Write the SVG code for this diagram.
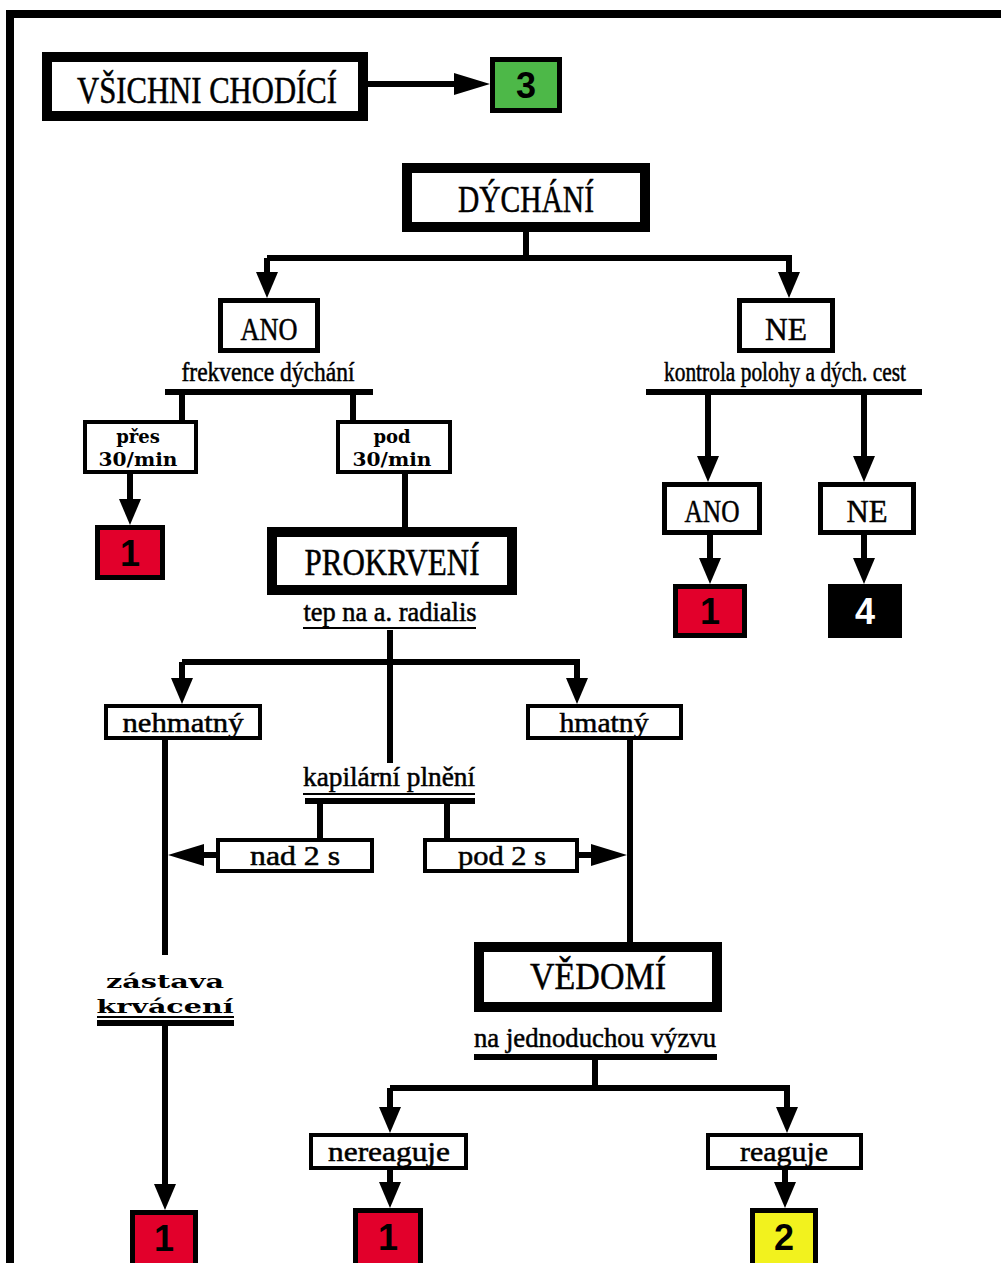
<svg xmlns="http://www.w3.org/2000/svg" width="1001" height="1263" viewBox="0 0 1001 1263">
<style>
.box{fill:#fff;stroke:#000}
.b10{stroke-width:10}
.b5{stroke-width:5}
.b4{stroke-width:4}
.t{font-family:"Liberation Serif","Times New Roman",serif;fill:#000;stroke:#000;stroke-width:0.5;text-anchor:middle}
.big{font-size:38px}
.mid{font-size:32px}
.sm{font-size:27px}
.wide{font-family:"DejaVu Serif",serif;font-weight:bold;font-size:18px;fill:#000;text-anchor:middle}
.num{font-family:"Liberation Sans",Arial,sans-serif;font-weight:bold;font-size:36px;text-anchor:middle}
.red{fill:#E2002B;stroke:#000;stroke-width:5}
.ln{fill:none;stroke:#000;stroke-width:6}
.ul{stroke:#000;stroke-width:2}
</style>
<defs>
<marker id="ah" markerUnits="userSpaceOnUse" viewBox="0 0 26 22" markerWidth="26" markerHeight="22" refX="14" refY="11" orient="auto"><path d="M0,0 L26,11 L0,22 z" fill="#000"/></marker>
<marker id="ahl" markerUnits="userSpaceOnUse" viewBox="0 0 36 22" markerWidth="36" markerHeight="22" refX="24" refY="11" orient="auto"><path d="M0,0 L36,11 L0,22 z" fill="#000"/></marker>
</defs>
<rect width="1001" height="1263" fill="#fff"/>
<path d="M10,1263 V14 H1001" fill="none" stroke="#000" stroke-width="8"/>

<g id="connectors">
<path class="ln" d="M368,84 H478" marker-end="url(#ahl)"/>
<path class="ln" d="M526,232 V258"/>
<path class="ln" d="M267,258 H789 V286" marker-end="url(#ah)"/>
<path class="ln" d="M267,258 V286" marker-end="url(#ah)"/>
<path class="ln" d="M165,392 H373 M182,392 V421 M353,392 V421"/>
<path class="ln" d="M130,474 V513" marker-end="url(#ah)"/>
<path class="ln" d="M405,474 V528"/>
<path class="ln" d="M646,392 H922"/>
<path class="ln" d="M708,392 V470" marker-end="url(#ah)"/>
<path class="ln" d="M864,392 V470" marker-end="url(#ah)"/>
<path class="ln" d="M710,535 V572" marker-end="url(#ah)"/>
<path class="ln" d="M864,535 V572" marker-end="url(#ah)"/>
<path class="ln" d="M390,630 V763"/>
<path class="ln" d="M182,662 H577 V692" marker-end="url(#ah)"/>
<path class="ln" d="M182,662 V692" marker-end="url(#ah)"/>
<path class="ln" d="M305,801 H475 M320,801 V839 M447,801 V839"/>
<path class="ln" d="M216,855 H180" marker-end="url(#ahl)"/>
<path class="ln" d="M579,855 H615" marker-end="url(#ahl)"/>
<path class="ln" d="M165,740 V955"/>
<path class="ln" d="M630,740 V943"/>
<path class="ln" d="M97,1023 H234"/>
<path class="ln" d="M165,1023 V1198" marker-end="url(#ah)"/>
<path class="ln" d="M474,1057 H717 M595,1057 V1088"/>
<path class="ln" d="M390,1088 H787 V1121" marker-end="url(#ah)"/>
<path class="ln" d="M390,1088 V1121" marker-end="url(#ah)"/>
<path class="ln" d="M390,1170 V1196" marker-end="url(#ah)"/>
<path class="ln" d="M785,1170 V1196" marker-end="url(#ah)"/>
</g>

<g id="n-vsichni"><rect class="box b10" x="47" y="57" width="316" height="59"/><text class="t big" x="207" y="103" textLength="260" lengthAdjust="spacingAndGlyphs">VŠICHNI CHODÍCÍ</text></g>
<g id="n-3"><rect x="492.5" y="59.5" width="67" height="51" fill="#4DB848" stroke="#000" stroke-width="5"/><text class="num" x="526" y="98">3</text></g>

<g id="n-dychani"><rect class="box b10" x="407" y="168" width="238" height="59"/><text class="t big" x="526" y="212" textLength="136" lengthAdjust="spacingAndGlyphs">DÝCHÁNÍ</text></g>

<g id="n-ano1"><rect class="box b5" x="220.5" y="300.5" width="97" height="50"/><text class="t mid" x="269" y="340" textLength="57" lengthAdjust="spacingAndGlyphs">ANO</text></g>
<g id="l-frekvence"><text class="t sm" x="268" y="381" textLength="173" lengthAdjust="spacingAndGlyphs">frekvence dýchání</text></g>
<g id="n-ne1"><rect class="box b5" x="739.5" y="300.5" width="93" height="50"/><text class="t mid" x="786" y="340" textLength="42" lengthAdjust="spacingAndGlyphs">NE</text></g>
<g id="l-kontrola"><text class="t sm" x="785" y="381" textLength="242" lengthAdjust="spacingAndGlyphs">kontrola polohy a dých. cest</text></g>

<g id="n-pres"><rect class="box b4" x="85" y="422" width="111" height="50"/><text class="wide" x="138" y="443">přes</text><text class="wide" x="138" y="466" textLength="79" lengthAdjust="spacingAndGlyphs">30/min</text></g>
<g id="n-pod30"><rect class="box b4" x="338" y="422" width="112" height="50"/><text class="wide" x="392" y="443">pod</text><text class="wide" x="392" y="466" textLength="79" lengthAdjust="spacingAndGlyphs">30/min</text></g>
<g id="n-1a"><rect class="red" x="97.5" y="527.5" width="65" height="50"/><text class="num" x="130" y="566">1</text></g>

<g id="n-prokrveni"><rect class="box b10" x="272" y="532" width="240" height="58"/><text class="t big" x="392" y="575" textLength="175" lengthAdjust="spacingAndGlyphs">PROKRVENÍ</text></g>
<g id="l-tep"><text class="t sm" x="390" y="621" textLength="173" lengthAdjust="spacingAndGlyphs">tep na a. radialis</text><line class="ul" x1="303" y1="628" x2="476" y2="628"/></g>

<g id="n-ano2"><rect class="box b5" x="664.5" y="484.5" width="95" height="48"/><text class="t mid" x="712" y="522" textLength="55" lengthAdjust="spacingAndGlyphs">ANO</text></g>
<g id="n-ne2"><rect class="box b5" x="820.5" y="484.5" width="93" height="48"/><text class="t mid" x="867" y="522" textLength="41" lengthAdjust="spacingAndGlyphs">NE</text></g>
<g id="n-1b"><rect class="red" x="675.5" y="586.5" width="69" height="49"/><text class="num" x="710" y="624">1</text></g>
<g id="n-4"><rect x="828" y="584" width="74" height="54" fill="#000"/><text class="num" x="865" y="624" fill="#fff">4</text></g>

<g id="n-nehmatny"><rect class="box b4" x="106" y="706" width="154" height="32"/><text class="t sm" x="183" y="732" textLength="121" lengthAdjust="spacingAndGlyphs">nehmatný</text></g>
<g id="n-hmatny"><rect class="box b4" x="528" y="706" width="153" height="32"/><text class="t sm" x="604" y="732" textLength="89" lengthAdjust="spacingAndGlyphs">hmatný</text></g>
<g id="l-kapilarni"><text class="t sm" x="389" y="786" textLength="172" lengthAdjust="spacingAndGlyphs">kapilární plnění</text><line class="ul" x1="303" y1="794" x2="475" y2="794"/></g>
<g id="n-nad2"><rect class="box b4" x="218" y="840" width="154" height="31"/><text class="t sm" x="295" y="865" textLength="90" lengthAdjust="spacingAndGlyphs">nad 2 s</text></g>
<g id="n-pod2"><rect class="box b4" x="425" y="840" width="152" height="31"/><text class="t sm" x="502" y="865" textLength="88" lengthAdjust="spacingAndGlyphs">pod 2 s</text></g>

<g id="l-zastava"><text class="wide" x="165" y="988" font-size="20" textLength="118" lengthAdjust="spacingAndGlyphs">zástava</text><text class="wide" x="165" y="1013" font-size="20" textLength="137" lengthAdjust="spacingAndGlyphs">krvácení</text><line class="ul" x1="97" y1="1017" x2="234" y2="1017"/></g>
<g id="n-1c"><rect class="red" x="132.5" y="1212.5" width="63" height="60"/><text class="num" x="164" y="1251">1</text></g>

<g id="n-vedomi"><rect class="box b10" x="479" y="947" width="238" height="60"/><text class="t big" x="598" y="989" textLength="136" lengthAdjust="spacingAndGlyphs">VĚDOMÍ</text></g>
<g id="l-vyzva"><text class="t sm" x="595" y="1047" textLength="242" lengthAdjust="spacingAndGlyphs">na jednoduchou výzvu</text></g>
<g id="n-nereaguje"><rect class="box b4" x="311" y="1135" width="155" height="33"/><text class="t sm" x="389" y="1161" textLength="122" lengthAdjust="spacingAndGlyphs">nereaguje</text></g>
<g id="n-reaguje"><rect class="box b4" x="708" y="1135" width="153" height="33"/><text class="t sm" x="784" y="1161" textLength="88" lengthAdjust="spacingAndGlyphs">reaguje</text></g>
<g id="n-1d"><rect class="red" x="355.5" y="1210.5" width="65" height="60"/><text class="num" x="388" y="1250">1</text></g>
<g id="n-2"><rect x="752.5" y="1210.5" width="63" height="60" fill="#F2F21E" stroke="#000" stroke-width="5"/><text class="num" x="784" y="1250">2</text></g>
</svg>
